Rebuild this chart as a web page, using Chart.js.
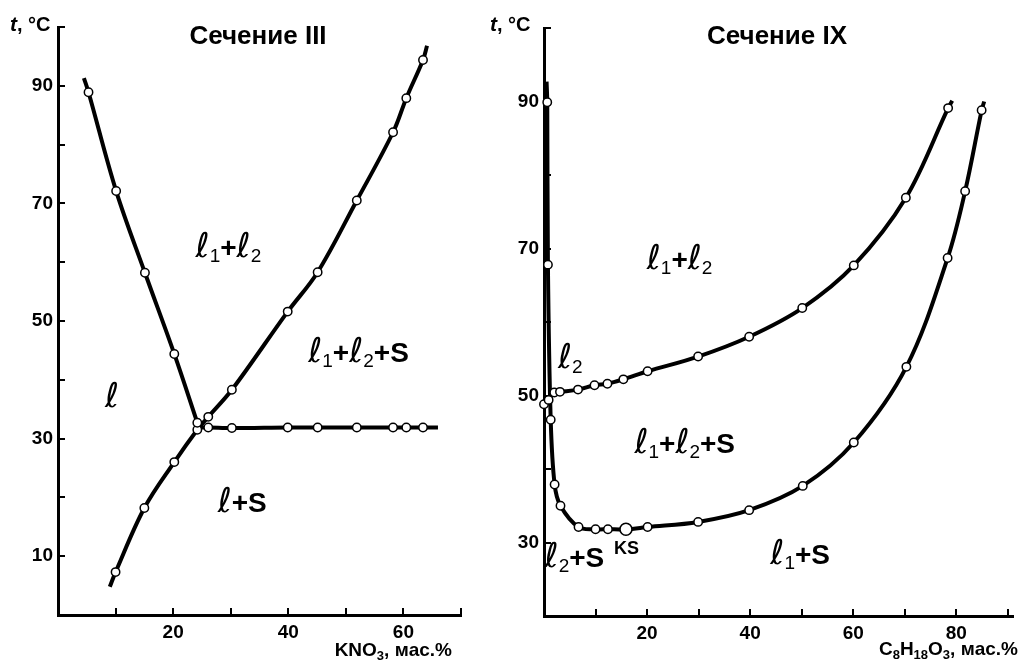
<!DOCTYPE html>
<html>
<head>
<meta charset="utf-8">
<script src="https://cdn.jsdelivr.net/npm/chart.js@4/dist/chart.umd.min.js"></script>
<style>
  html, body { margin: 0; padding: 0; background: #fff; }
  #wrap { position: relative; width: 1021px; height: 662px; overflow: hidden; }
  canvas { position: absolute; top: 0; }
  #sec3 { left: 0; }
  #sec9 { left: 480px; }
</style>
</head>
<body>
<div id="wrap">
  <canvas id="sec3" width="480" height="662"></canvas>
  <canvas id="sec9" width="541" height="662"></canvas>
</div>
<script>
// ---------- Section III: KNO3, wt.% vs t, °C ----------
// boundary l / l1+l2 (first vertex is the free end of the line)
const s3BranchA_x = [4.5, 5.3, 10.1, 15.1, 20.2, 24.2];
const s3BranchA_t = [91.3, 88.9, 72.1, 58.2, 44.4, 32.7];
// solubility branch
const s3BranchB_x = [9.0, 10.0, 15.0, 20.2, 24.2, 26.1, 30.2, 39.9, 45.1, 51.9, 58.2, 60.5, 63.4, 64.1];
const s3BranchB_t = [4.8, 7.3, 18.2, 26.0, 31.5, 33.7, 38.3, 51.6, 58.3, 70.5, 82.1, 87.9, 94.4, 96.8];
// three-phase isotherm
const s3Iso_x = [24.2, 26.1, 30.2, 39.9, 45.1, 51.9, 58.2, 60.5, 63.4, 66.0];
const s3Iso_t = [31.9, 31.9, 31.8, 31.9, 31.9, 31.9, 31.9, 31.9, 31.9, 31.9];

const s3TicksX = [20, 40, 60];
const s3TicksT = [10, 30, 50, 70, 90];

const s3RegionText = ['ℓ1+ℓ2', 'ℓ1+ℓ2+S', 'ℓ', 'ℓ+S'];
const s3RegionX = [29.6, 52.2, 9.4, 32.0];
const s3RegionT = [60.8, 43.1, 35.4, 17.6];

// ---------- Section IX: C8H18O3, wt.% vs t, °C ----------
const s9Lower_x = [0.5, 0.63, 0.76, 1.3, 2.06, 3.2, 6.7, 10.0, 12.4, 15.9, 20.1, 29.9, 39.8, 50.2, 60.1, 70.3, 78.3, 81.7, 84.9, 85.4];
const s9Lower_t = [92.7, 89.9, 67.8, 46.7, 37.9, 35.0, 32.1, 31.8, 31.8, 31.8, 32.1, 32.8, 34.4, 37.7, 43.6, 53.9, 68.7, 77.8, 88.8, 90.0];
const s9Upper_x = [0, 0.9, 2.0, 3.1, 6.6, 9.8, 12.3, 15.4, 20.1, 29.9, 39.8, 50.1, 60.1, 70.2, 78.4, 79.2];
const s9Upper_t = [48.8, 49.4, 50.4, 50.5, 50.8, 51.4, 51.6, 52.2, 53.3, 55.3, 58.0, 61.9, 67.7, 76.9, 89.1, 90.1];
const s9KS_x = [15.9];
const s9KS_t = [31.8];

const s9TicksX = [20, 40, 60, 80];
const s9TicksT = [30, 50, 70, 90];

const s9RegionText = ['ℓ1+ℓ2', 'ℓ2', 'ℓ1+ℓ2+S', 'KS', 'ℓ2+S', 'ℓ1+S'];
const s9RegionX = [26.3, 5.1, 27.3, 16.0, 5.9, 49.7];
const s9RegionT = [67.2, 53.7, 42.2, 28.4, 26.6, 27.1];

// ---------- drawing helpers ----------
const SANS = '"Liberation Sans", Arial, Helvetica, sans-serif';
const SCRIPT = '"DejaVu Sans", sans-serif';

const pts = (xs, ts) => xs.map((x, i) => ({ x, y: ts[i] }));

function curve(xs, ts, openStart, openEnd) {
  const n = xs.length;
  return {
    data: pts(xs, ts),
    showLine: true,
    tension: 0.35,
    clip: false,
    borderColor: '#000',
    borderWidth: 4,
    borderCapStyle: 'butt',
    pointBackgroundColor: '#fff',
    pointBorderColor: '#000',
    pointBorderWidth: 1.5,
    pointRadius: c => ((openStart && c.dataIndex === 0) || (openEnd && c.dataIndex === n - 1)) ? 0 : 4.2,
    pointHoverRadius: 0
  };
}

// split "ℓ1+ℓ2+S" into styled runs
function regionRuns(txt, small) {
  const runs = [];
  for (let i = 0; i < txt.length; i++) {
    const ch = txt[i];
    if (ch === 'ℓ') runs.push({ t: ch, font: 'italic 34px ' + SCRIPT });
    else if (/[0-9]/.test(ch)) runs.push({ t: ch, font: '19px ' + SANS, dy: 5 });
    else runs.push({ t: ch, font: (small ? 'bold 18px ' : 'bold 28px ') + SANS });
  }
  return runs;
}

// chemical formula: digits become subscripts
function formulaRuns(txt) {
  const runs = [];
  for (const ch of txt) {
    if (/[0-9]/.test(ch)) runs.push({ t: ch, font: 'bold 13px ' + SANS, dy: 4 });
    else runs.push({ t: ch, font: 'bold 19px ' + SANS });
  }
  return runs;
}

function drawRuns(ctx, runs, x, y, align) {
  let w = 0;
  runs.forEach(r => { ctx.font = r.font; r.w = ctx.measureText(r.t).width; w += r.w; });
  let cx = align === 'center' ? x - w / 2 : align === 'right' ? x - w : x;
  ctx.textBaseline = 'alphabetic';
  ctx.textAlign = 'left';
  runs.forEach(r => { ctx.font = r.font; ctx.fillText(r.t, cx, y + (r.dy || 0)); cx += r.w; });
}

const annotations = {
  id: 'annotations',
  afterDraw(chart, args, o) {
    const ctx = chart.ctx;
    const sx = chart.scales.x, sy = chart.scales.y;
    ctx.save();
    ctx.fillStyle = '#000';
    // axis name "t, °C"
    drawRuns(ctx, [
      { t: 't', font: 'italic bold 21px ' + SANS },
      { t: ', °C', font: 'bold 20px ' + SANS }
    ], o.unitX, o.unitY, 'left');
    // section title
    ctx.font = 'bold 26px ' + SANS;
    ctx.textAlign = 'center';
    ctx.textBaseline = 'alphabetic';
    ctx.fillText(o.title, o.titleX, o.titleY);
    // composition axis name
    drawRuns(ctx, formulaRuns(o.xName), o.xNameX, o.xNameY, 'right');
    // phase region labels
    o.regions.text.forEach((txt, i) => {
      const px = sx.getPixelForValue(o.regions.x[i]);
      const py = sy.getPixelForValue(o.regions.t[i]);
      drawRuns(ctx, regionRuns(txt, txt === 'KS'), px, py, 'center');
    });
    ctx.restore();
  }
};

// tick marks point into the plot area (negative length), labels sit outside
function axes(xMax, yMin, xLabels, yLabels, yWidth, xHeight) {
  const tickFont = { family: SANS, size: 19, weight: 'bold' };
  const grid = { display: true, drawOnChartArea: false, drawTicks: true, tickLength: -7, color: '#000', lineWidth: 2 };
  return {
    x: {
      type: 'linear', min: 0, max: xMax,
      border: { display: true, color: '#000', width: 3 },
      grid,
      ticks: {
        stepSize: 10, includeBounds: false, autoSkip: false, maxRotation: 0, padding: 13,
        color: '#000', font: tickFont,
        callback: v => xLabels.includes(v) ? String(v) : ''
      },
      afterFit(s) { s.height = xHeight; }
    },
    y: {
      type: 'linear', min: yMin, max: 100,
      border: { display: true, color: '#000', width: 3 },
      grid,
      ticks: {
        stepSize: 10, includeBounds: false, autoSkip: false, padding: 12,
        color: '#000', font: tickFont,
        callback: v => yLabels.includes(v) ? String(v) : ''
      },
      afterFit(s) { s.width = yWidth; }
    }
  };
}

const common = {
  responsive: false,
  animation: false,
  devicePixelRatio: 1,
  events: []
};

// Section III chart (dataset 0 is drawn on top)
new Chart(document.getElementById('sec3'), {
  type: 'scatter',
  data: {
    datasets: [
      curve(s3BranchA_x, s3BranchA_t, true, false),
      curve(s3BranchB_x, s3BranchB_t, true, true),
      curve(s3Iso_x, s3Iso_t, true, true)
    ]
  },
  options: Object.assign({}, common, {
    layout: { padding: { top: 27, right: 19, left: 0, bottom: 0 } },
    plugins: {
      legend: { display: false },
      tooltip: { enabled: false },
      annotations: {
        unitX: 10, unitY: 31,
        title: 'Сечение III', titleX: 258, titleY: 44,
        xName: 'KNO3, мас.%', xNameX: 452, xNameY: 656,
        regions: { text: s3RegionText, x: s3RegionX, t: s3RegionT }
      }
    },
    scales: axes(70, 0, s3TicksX, s3TicksT, 58, 47)
  }),
  plugins: [annotations]
});

// Section IX chart
const ks = {
  data: pts(s9KS_x, s9KS_t),
  clip: false,
  pointBackgroundColor: '#fff',
  pointBorderColor: '#000',
  pointBorderWidth: 1.6,
  pointRadius: 6,
  pointHoverRadius: 0
};
new Chart(document.getElementById('sec9'), {
  type: 'scatter',
  data: {
    datasets: [
      ks,
      curve(s9Upper_x, s9Upper_t, false, true),
      curve(s9Lower_x, s9Lower_t, true, true)
    ]
  },
  options: Object.assign({}, common, {
    layout: { padding: { top: 28, right: 0, left: 0, bottom: 0 } },
    plugins: {
      legend: { display: false },
      tooltip: { enabled: false },
      annotations: {
        unitX: 10, unitY: 31,
        title: 'Сечение IX', titleX: 297, titleY: 44,
        xName: 'C8H18O3, мас.%', xNameX: 538, xNameY: 655,
        regions: { text: s9RegionText, x: s9RegionX, t: s9RegionT }
      }
    },
    scales: axes(91, 20, s9TicksX, s9TicksT, 64, 46)
  }),
  plugins: [annotations]
});
</script>
</body>
</html>
